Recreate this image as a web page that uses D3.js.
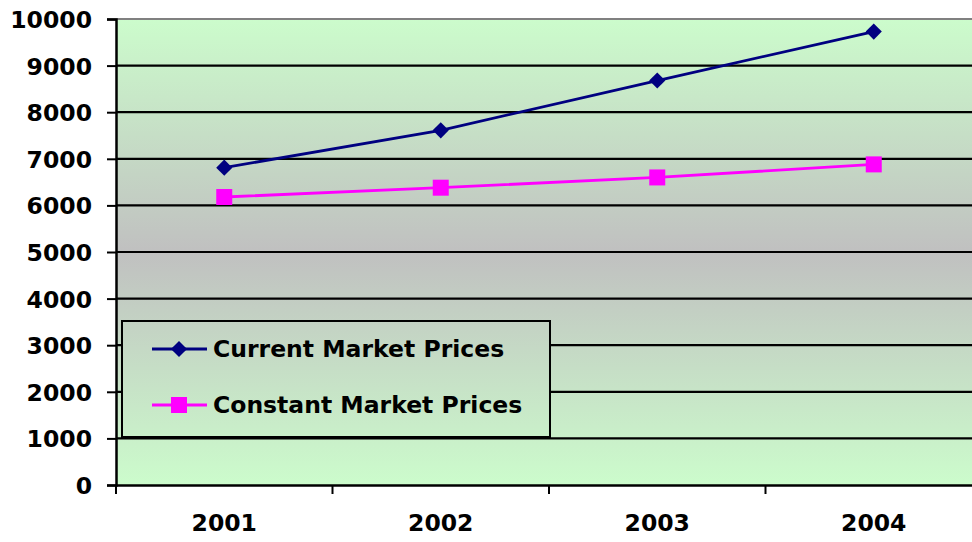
<!DOCTYPE html>
<html>
<head>
<meta charset="utf-8">
<script src="https://cdn.jsdelivr.net/npm/d3@7"></script>
<style>
  html, body { margin: 0; padding: 0; background: #fff; }
  svg { display: block; font-family: "DejaVu Sans", Verdana, sans-serif; font-weight: bold; }
</style>
</head>
<body>
<div id="chart"></div>
<script>
(() => {
  "use strict";

  const years = ["2001", "2002", "2003", "2004"];
  const currentPrices = [6810, 7610, 8680, 9730];
  const constantPrices = [6180, 6380, 6600, 6880];
  const yTicks = [0, 1000, 2000, 3000, 4000, 5000, 6000, 7000, 8000, 9000, 10000];
  const seriesNames = ["Current Market Prices", "Constant Market Prices"];

  const W = 972, H = 542;
  const left = 116, top = 19, bottom = 485, right = 982;
  const FS = 23.5;

  const svg = d3.select("#chart").append("svg").attr("width", W).attr("height", H);

  // background gradient: green -> grey -> green
  const defs = svg.append("defs");
  const grad = defs.append("linearGradient")
    .attr("id", "bg").attr("gradientUnits", "userSpaceOnUse")
    .attr("x1", 0).attr("y1", top).attr("x2", 0).attr("y2", bottom);
  grad.append("stop").attr("offset", "0%").attr("stop-color", "#ccfccc");
  grad.append("stop").attr("offset", "50%").attr("stop-color", "#c0c0c0");
  grad.append("stop").attr("offset", "100%").attr("stop-color", "#ccfccc");

  const x = d3.scaleBand().domain(years).range([left, right]);
  const y = d3.scaleLinear().domain([0, 10000]).range([bottom, top]);

  svg.append("rect")
    .attr("x", left).attr("y", top)
    .attr("width", right - left).attr("height", bottom - top)
    .attr("fill", "url(#bg)");

  // gridlines
  svg.append("g").selectAll("line")
    .data(yTicks.filter(v => v > 0 && v < 10000))
    .join("line")
    .attr("x1", left).attr("x2", right)
    .attr("y1", d => y(d)).attr("y2", d => y(d))
    .attr("stroke", "#000").attr("stroke-width", 2.2);

  // top border
  svg.append("line")
    .attr("x1", left).attr("x2", right)
    .attr("y1", y(10000)).attr("y2", y(10000))
    .attr("stroke", "#808080").attr("stroke-width", 2);

  // y axis
  const yAxis = svg.append("g")
    .attr("transform", `translate(${left},0)`)
    .call(d3.axisLeft(y).tickValues(yTicks).tickSize(9).tickPadding(15).tickFormat(d3.format("d")));
  yAxis.select(".domain").attr("stroke", "#000").attr("stroke-width", 2.5);
  yAxis.selectAll(".tick line").attr("stroke", "#000").attr("stroke-width", 2);
  yAxis.selectAll("text")
    .attr("font-size", FS).attr("font-family", "DejaVu Sans, sans-serif")
    .attr("font-weight", "bold").attr("fill", "#000").attr("dy", "0.36em");

  // x axis
  const xAxis = svg.append("g")
    .attr("transform", `translate(0,${bottom})`)
    .call(d3.axisBottom(x).tickSize(0).tickPadding(29));
  xAxis.select(".domain").attr("stroke", "#000").attr("stroke-width", 2.5);
  xAxis.selectAll("text")
    .attr("font-size", FS).attr("font-family", "DejaVu Sans, sans-serif")
    .attr("font-weight", "bold").attr("fill", "#000");
  // category boundary ticks
  svg.append("g").selectAll("line")
    .data(years)
    .join("line")
    .attr("x1", d => x(d)).attr("x2", d => x(d))
    .attr("y1", bottom).attr("y2", bottom + 9)
    .attr("stroke", "#000").attr("stroke-width", 2);

  const cx = d => x(d) + x.bandwidth() / 2;
  const line = d3.line().x(d => cx(d.year)).y(d => y(d.v));

  const series = [
    { name: seriesNames[0], values: currentPrices, color: "#000080", shape: d3.symbolSquare, size: 130, rot: 45 },
    { name: seriesNames[1], values: constantPrices, color: "#ff00ff", shape: d3.symbolSquare, size: 256, rot: 0 }
  ];

  series.forEach(s => {
    const pts = years.map((yr, i) => ({ year: yr, v: s.values[i] }));
    svg.append("path").datum(pts)
      .attr("d", line).attr("fill", "none")
      .attr("stroke", s.color).attr("stroke-width", 2.8);
    svg.append("g").selectAll("path")
      .data(pts).join("path")
      .attr("transform", d => `translate(${cx(d.year)},${y(d.v)}) rotate(${s.rot})`)
      .attr("d", d3.symbol().type(s.shape).size(s.size))
      .attr("fill", s.color);
  });

  // legend
  const lg = svg.append("g");
  lg.append("rect")
    .attr("x", 122).attr("y", 321).attr("width", 428).attr("height", 116)
    .attr("fill", "url(#bg)").attr("stroke", "#000").attr("stroke-width", 2);
  series.forEach((s, i) => {
    const ly = 349 + i * 56;
    lg.append("line")
      .attr("x1", 152).attr("x2", 207).attr("y1", ly).attr("y2", ly)
      .attr("stroke", s.color).attr("stroke-width", 2.8);
    lg.append("path")
      .attr("transform", `translate(179,${ly}) rotate(${s.rot})`)
      .attr("d", d3.symbol().type(s.shape).size(s.size))
      .attr("fill", s.color);
    lg.append("text")
      .attr("x", 213).attr("y", ly).attr("dy", "0.36em")
      .attr("font-size", FS).attr("fill", "#000")
      .text(s.name);
  });
})();
</script>
</body>
</html>
